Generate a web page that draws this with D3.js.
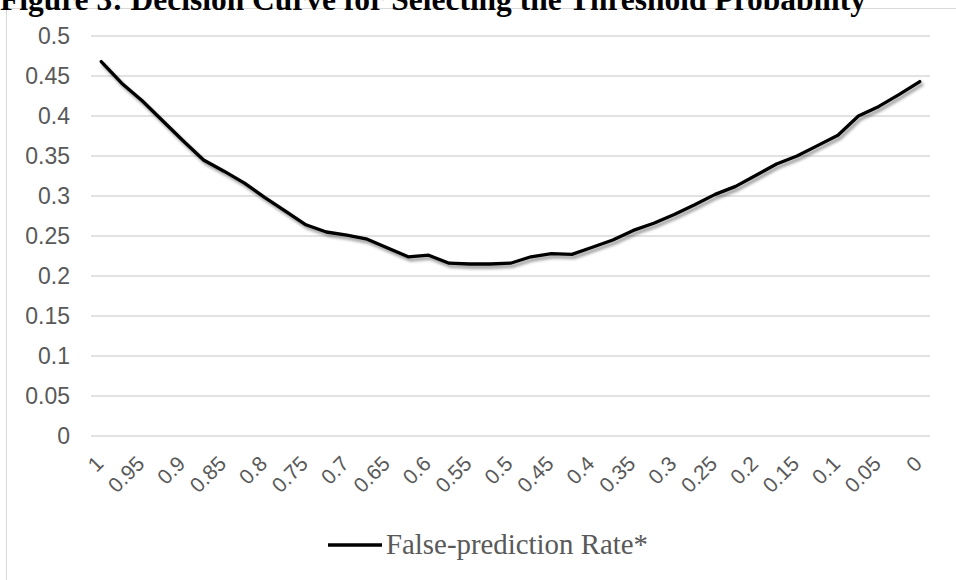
<!DOCTYPE html>
<html>
<head>
<meta charset="utf-8">
<script src="https://cdn.jsdelivr.net/npm/d3@7"></script>
<style>
  html, body { margin: 0; padding: 0; background: #fff; }
  svg { display: block; }
</style>
</head>
<body>
<svg id="chart" width="956" height="580"></svg>
<script>
const titleText = "Figure 3: Decision Curve for Selecting the Threshold Probability";
const seriesName = "False-prediction Rate*";
const thresholds = ["1","0.975","0.95","0.925","0.9","0.875","0.85","0.825","0.8","0.775","0.75","0.725","0.7","0.675","0.65","0.625","0.6","0.575","0.55","0.525","0.5","0.475","0.45","0.425","0.4","0.375","0.35","0.325","0.3","0.275","0.25","0.225","0.2","0.175","0.15","0.125","0.1","0.075","0.05","0.025","0"];
const falseRate = [0.468,0.441,0.419,0.394,0.369,0.345,0.331,0.316,0.298,0.281,0.264,0.255,0.251,0.246,0.235,0.224,0.226,0.216,0.215,0.215,0.216,0.224,0.228,0.227,0.236,0.245,0.257,0.266,0.277,0.289,0.302,0.312,0.326,0.340,0.350,0.363,0.376,0.400,0.412,0.427,0.443];
const xTickLabels = ["1","0.95","0.9","0.85","0.8","0.75","0.7","0.65","0.6","0.55","0.5","0.45","0.4","0.35","0.3","0.25","0.2","0.15","0.1","0.05","0"];
const yTicks = [0,0.05,0.1,0.15,0.2,0.25,0.3,0.35,0.4,0.45,0.5];

const svg = d3.select("#chart");
const L = 91, R = 930, T = 36, B = 436;

// chart frame
svg.append("rect").attr("x", 6.5).attr("y", 8.5).attr("width", 1000).attr("height", 1000)
  .attr("fill", "#fff").attr("stroke", "#d9d9d9").attr("stroke-width", 1);

// title
const title = svg.append("text").attr("x", 0).attr("y", 10)
  .attr("font-family", "'Liberation Serif', 'Times New Roman', serif")
  .attr("font-weight", "bold").attr("font-size", 24).attr("fill", "#000").text(titleText);
const tw = title.node().getComputedTextLength();
title.attr("font-size", 24 * 866 / tw);

const defs = svg.append("defs");
const f = defs.append("filter").attr("id", "shadow").attr("x", "-10%").attr("y", "-10%").attr("width", "120%").attr("height", "130%");
f.append("feDropShadow").attr("dx", 2).attr("dy", 3).attr("stdDeviation", 1.8)
  .attr("flood-color", "#000").attr("flood-opacity", 0.4);

const x = d3.scalePoint().domain(thresholds).range([L, R]).padding(0.5);
const y = d3.scaleLinear().domain([0, 0.5]).range([B, T]);

// gridlines
svg.append("g").selectAll("line").data(yTicks).join("line")
  .attr("x1", L).attr("x2", R)
  .attr("y1", d => y(d)).attr("y2", d => y(d))
  .attr("stroke", "#d9d9d9").attr("stroke-width", 1.5);

// y axis labels
const yAxis = d3.axisLeft(y).tickValues(yTicks).tickSize(0).tickPadding(0).tickFormat(d => String(d));
const yg = svg.append("g").attr("transform", `translate(${L - 21},0)`).call(yAxis);
yg.select(".domain").remove();
yg.attr("font-size", null).attr("font-family", null);
yg.selectAll("text")
  .style("font-family", "'Liberation Sans', Arial, sans-serif")
  .style("font-size", "23px").attr("fill", "#595959");

// x axis labels
const xAxis = d3.axisBottom(x).tickValues(thresholds.filter(t => xTickLabels.includes(t))).tickSize(0).tickPadding(0);
const xg = svg.append("g").attr("transform", `translate(0,${B})`).call(xAxis);
xg.select(".domain").remove();
xg.attr("font-size", null).attr("font-family", null);
xg.selectAll("text")
  .style("font-family", "'Liberation Sans', Arial, sans-serif")
  .style("font-size", "21px").attr("fill", "#595959")
  .attr("text-anchor", "end").attr("dy", null).attr("y", null)
  .attr("transform", "translate(3,29) rotate(-45)");

// line
const line = d3.line().x((d, i) => x(thresholds[i])).y(d => y(d));
svg.append("path").datum(falseRate).attr("d", line)
  .attr("fill", "none").attr("stroke", "#000").attr("stroke-width", 3.3)
  .attr("stroke-linejoin", "round").attr("stroke-linecap", "round")
  .attr("filter", "url(#shadow)");

// legend
svg.append("line").attr("x1", 328).attr("x2", 382).attr("y1", 545).attr("y2", 545)
  .attr("stroke", "#000").attr("stroke-width", 3.3);
const lt = svg.append("text").attr("x", 386).attr("y", 554)
  .attr("font-family", "'Liberation Serif', 'Times New Roman', serif")
  .attr("font-size", 26).attr("fill", "#595959").text(seriesName);
const lw = lt.node().getComputedTextLength();
lt.attr("font-size", 26 * 262 / lw);
</script>
</body>
</html>
